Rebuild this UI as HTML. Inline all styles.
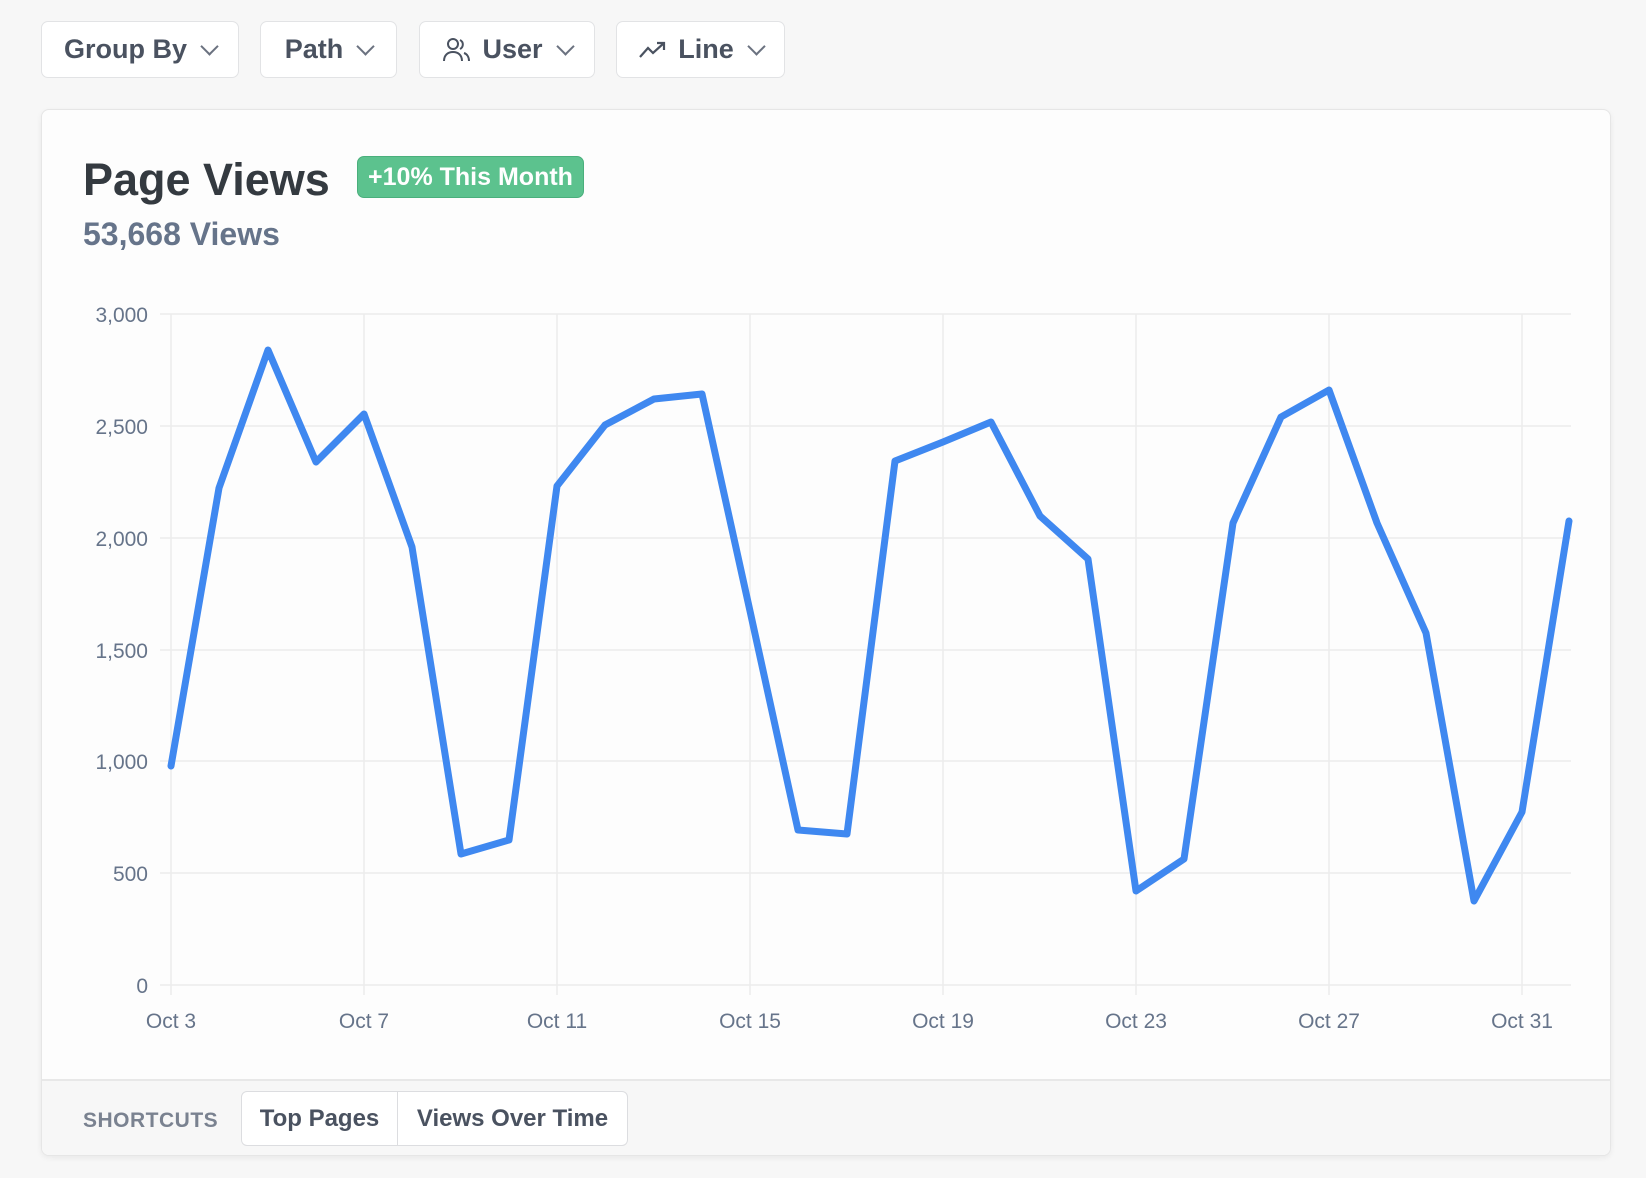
<!DOCTYPE html>
<html><head><meta charset="utf-8"><style>
body{margin:0;width:1646px;height:1178px;background:#f7f7f7;font-family:"Liberation Sans",sans-serif;position:relative;overflow:hidden}
.btn{position:absolute;top:21px;height:57px;border:1.5px solid #e2e3e5;border-radius:7px;background:#fff;box-sizing:border-box;display:flex;align-items:center;justify-content:center;gap:10px;font-size:27px;font-weight:bold;color:#4a5260}
.chev{width:11px;height:11px;border-right:2px solid #6b7280;border-bottom:2px solid #6b7280;transform:rotate(45deg);margin:-6px 0 0 6px}
.card{position:absolute;left:41px;top:109px;width:1570px;height:1047px;background:#fdfdfd;border:1.5px solid #e6e6e6;border-radius:8px;box-sizing:border-box;box-shadow:0 2px 6px rgba(0,0,0,.06);overflow:hidden}
.foot{position:absolute;left:0;right:0;bottom:0;height:74px;background:#f7f7f7;border-top:2px solid #e8e8e8}
</style></head><body>
<div class="btn" style="left:41px;width:198px">Group By<span class="chev"></span></div>
<div class="btn" style="left:260px;width:137px">Path<span class="chev"></span></div>
<div class="btn" style="left:419px;width:176px"><svg width="30" height="26" viewBox="0 0 30 26" fill="none" stroke="#4a5260" stroke-width="2"><circle cx="11" cy="7" r="5"/><path d="M2 24c0-6 4-9 9-9s9 3 9 9"/><path d="M18 3a5 5 0 0 1 0 9M22 16c3 1 5 4 5 8"/></svg>User<span class="chev"></span></div>
<div class="btn" style="left:616px;width:169px"><svg width="30" height="20" viewBox="0 0 30 20" fill="none" stroke="#4a5260" stroke-width="2.2"><path d="M2 17l8-9 5 5 11-10M19 3h7v7"/></svg>Line<span class="chev"></span></div>
<div class="card">
<div style="position:absolute;left:41px;top:44px;font-size:45px;font-weight:bold;color:#343a40">Page Views</div>
<div style="position:absolute;left:315px;top:46px;width:227px;height:42px;background:#5cc28e;border:1.5px solid #4aaf7c;border-radius:7px;box-sizing:border-box;color:#fff;font-size:25px;font-weight:bold;display:flex;align-items:center;justify-content:center">+10% This Month</div>
<div style="position:absolute;left:41px;top:106px;font-size:32px;font-weight:bold;color:#66748a">53,668 Views</div>
<div class="foot">
<div style="position:absolute;left:41px;top:28px;font-size:21px;font-weight:bold;color:#7a8290;letter-spacing:.5px">SHORTCUTS</div>
<div style="position:absolute;left:199px;top:10px;width:387px;height:55px;border:1.5px solid #dcdde0;border-radius:6px;background:#fff;box-sizing:border-box;display:flex;font-size:24px;font-weight:bold;color:#4a5260">
<div style="width:155px;display:flex;align-items:center;justify-content:center;border-right:1.5px solid #dcdde0">Top Pages</div>
<div style="flex:1;display:flex;align-items:center;justify-content:center">Views Over Time</div></div>
</div></div>
<svg style="position:absolute;left:0;top:0" width="1646" height="1178">
<g stroke="#ececec" stroke-width="1.5">
<line x1="160" y1="314" x2="1571" y2="314"/><line x1="160" y1="426" x2="1571" y2="426"/><line x1="160" y1="538" x2="1571" y2="538"/><line x1="160" y1="650" x2="1571" y2="650"/><line x1="160" y1="761" x2="1571" y2="761"/><line x1="160" y1="873" x2="1571" y2="873"/><line x1="160" y1="985" x2="1571" y2="985"/>
<line x1="171" y1="314" x2="171" y2="995"/><line x1="364" y1="314" x2="364" y2="995"/><line x1="557" y1="314" x2="557" y2="995"/><line x1="750" y1="314" x2="750" y2="995"/><line x1="943" y1="314" x2="943" y2="995"/><line x1="1136" y1="314" x2="1136" y2="995"/><line x1="1329" y1="314" x2="1329" y2="995"/><line x1="1522" y1="314" x2="1522" y2="995"/>
</g>
<g font-size="21" fill="#66748a" text-anchor="end">
<text x="148" y="322">3,000</text><text x="148" y="434">2,500</text><text x="148" y="546">2,000</text><text x="148" y="658">1,500</text><text x="148" y="769">1,000</text><text x="148" y="881">500</text><text x="148" y="993">0</text></g>
<g font-size="21" fill="#66748a" text-anchor="middle">
<text x="171" y="1028">Oct 3</text><text x="364" y="1028">Oct 7</text><text x="557" y="1028">Oct 11</text><text x="750" y="1028">Oct 15</text><text x="943" y="1028">Oct 19</text><text x="1136" y="1028">Oct 23</text><text x="1329" y="1028">Oct 27</text><text x="1522" y="1028">Oct 31</text></g>
<polyline fill="none" stroke="#3f88f0" stroke-width="7" stroke-linejoin="round" stroke-linecap="round" points="171,766 219,488 268,350 316,462 364,414 412,547 461,854 509,840 557,486 605,425 654,399 702,394 750,611 798,830 847,834 895,461 943,442 991,422 1040,516 1088,559 1136,891 1184,859 1233,523 1281,417 1329,390 1377,523 1426,633 1474,901 1522,812 1569,521"/>
</svg>
</body></html>
